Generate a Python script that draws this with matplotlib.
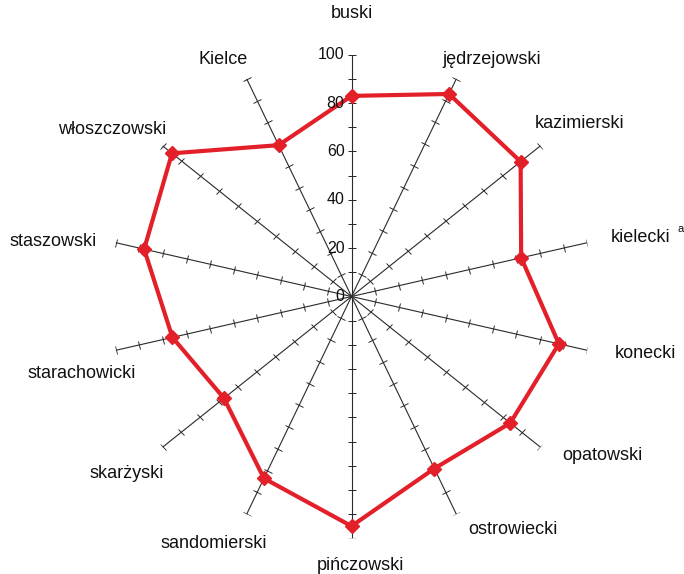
import numpy as np
import matplotlib
matplotlib.use("Agg")
import matplotlib.pyplot as plt
from matplotlib.markers import MarkerStyle
from matplotlib.transforms import Affine2D

plt.rcParams['font.family'] = ['Liberation Sans', 'DejaVu Sans']

categories = ["buski", "jędrzejowski", "kazimierski", "kielecki", "konecki",
              "opatowski", "ostrowiecki", "pińczowski", "sandomierski",
              "skarżyski", "starachowicki", "staszowski", "włoszczowski", "Kielce"]
values = [83, 93, 89.5, 72, 88, 84, 79, 95, 83.5, 67.5, 76, 88, 95, 69.5]
tick_values = [0, 20, 40, 60, 80, 100]
minor_ticks = [10, 20, 30, 40, 50, 60, 70, 80, 90, 100]

W, H = 684, 574
fig = plt.figure(figsize=(W / 100, H / 100), dpi=100)
cx, cy, R = 351.5, 296.5, 241.7
ax = fig.add_axes([(cx - R) / W, (H - cy - R) / H, 2 * R / W, 2 * R / H], projection='polar')
ax.set_theta_zero_location('N')
ax.set_theta_direction(-1)
ax.set_ylim(0, 100)
ax.grid(False)
ax.spines['polar'].set_visible(False)
ax.set_xticks([])
ax.set_yticks([])
ax.patch.set_alpha(0)

n = len(categories)
angles = np.arange(n) * 2 * np.pi / n

axis_col = '#2a2a2a'
for th in angles:
    ax.plot([th, th], [0, 100], color=axis_col, lw=0.8, zorder=1)
    m = MarkerStyle('_', transform=Affine2D().rotate_deg(-np.degrees(th) + 1e-3))
    ax.plot([th] * len(minor_ticks), minor_ticks, ls='none', marker=m,
            markersize=6, markeredgewidth=0.7, color=axis_col, zorder=1,
            snap=False)

th_closed = np.append(angles, angles[0])
v_closed = values + [values[0]]
ax.plot(th_closed, v_closed, color='#e3202a', lw=3.0, zorder=3,
        solid_joinstyle='miter')
ax.plot(angles, values, ls='none', marker='D', markersize=7.5,
        color='#e3202a', zorder=4)

for t in tick_values:
    ax.annotate(str(t), xy=(0, t), xytext=(-5, 0), textcoords='offset points',
                ha='right', va='center', fontsize=11.5, color='#111111', zorder=5)

label_pos = [(352, 14), (492, 59), (580, 123), (641, 237), (645, 353),
             (602, 456), (513, 530), (360, 565), (214, 543), (127, 473),
             (82, 374), (53, 242), (112, 129), (223, 60)]
for name, (px, py) in zip(categories, label_pos):
    fig.text(px / W, 1 - py / H, name, ha='center', va='center',
             fontsize=13, color='#111111')
fig.text(681 / W, 1 - 229 / H, 'a', ha='center', va='center',
         fontsize=8, color='#111111')

fig.savefig('out.png', dpi=100, facecolor='white')
